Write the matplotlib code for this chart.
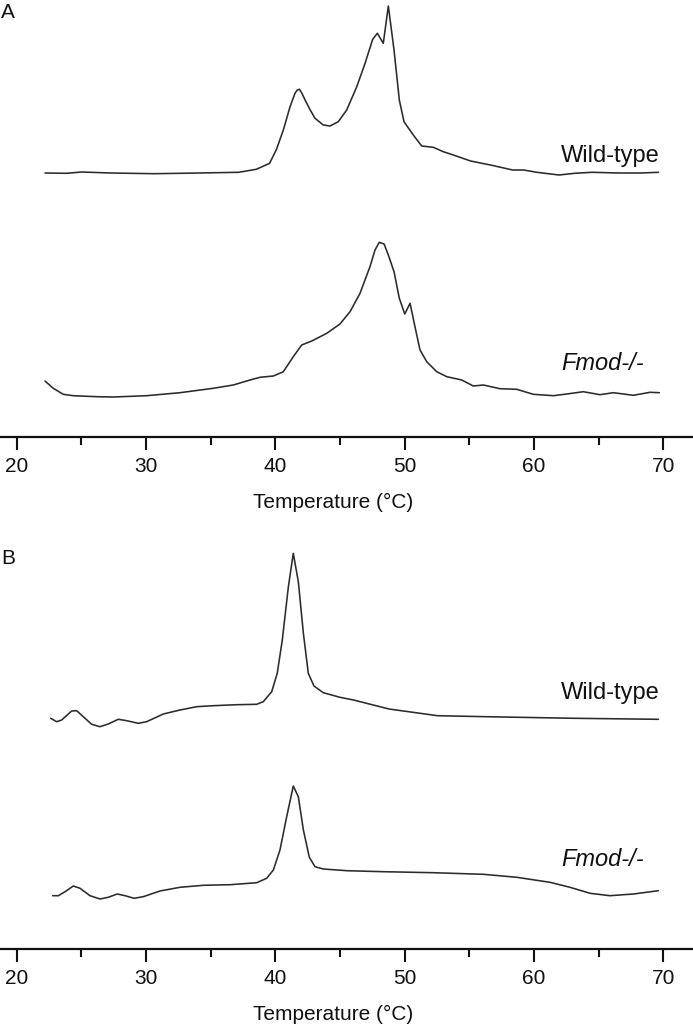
import matplotlib
matplotlib.use("Agg")
import matplotlib.pyplot as plt
from matplotlib.ticker import MultipleLocator

plt.rcParams['font.family'] = ['Liberation Sans', 'DejaVu Sans']

# ---------------- Data (temperature in degC, heat flow in arbitrary units) ----------------
# Panel A
a_wt_T = [22.19, 23.84, 25.03, 27.25, 30.67, 34.09, 37.16, 38.53, 39.56, 40.10, 40.62, 41.14, 41.52,
          41.70, 41.86, 42.05, 42.30, 42.70, 43.07, 43.71, 44.23, 44.87, 45.52, 46.30, 46.94, 47.53,
          47.89, 48.35, 48.74, 49.18, 49.59, 49.95, 50.67, 51.32, 52.22, 52.99, 53.77, 55.10, 56.64,
          58.35, 59.20, 60.23, 61.94, 63.14, 64.49, 66.55, 68.26, 69.63]
a_wt_H = [0.0, -0.003, 0.01, 0.0, -0.007, 0.0, 0.007, 0.037, 0.097, 0.24, 0.43, 0.663, 0.797,
          0.83, 0.837, 0.80, 0.73, 0.63, 0.547, 0.48, 0.47, 0.513, 0.63, 0.863, 1.097, 1.337,
          1.397, 1.297, 1.67, 1.23, 0.73, 0.513, 0.38, 0.27, 0.257, 0.213, 0.18, 0.12, 0.08,
          0.03, 0.03, 0.007, -0.02, -0.003, 0.007, 0.0, 0.0, 0.007]

a_ko_T = [22.19, 22.83, 23.60, 24.38, 26.19, 27.47, 30.05, 32.63, 35.20, 36.75, 38.04, 38.82,
          39.85, 40.62, 41.39, 42.04, 42.82, 43.98, 45.00, 45.78, 46.55, 47.32, 47.71, 48.04,
          48.41, 48.74, 49.18, 49.59, 50.01, 50.42, 50.80, 51.19, 51.71, 52.48, 53.26, 54.42,
          55.31, 56.09, 57.38, 58.67, 59.95, 61.50, 62.54, 63.82, 65.11, 66.14, 67.69, 68.98, 69.70]
a_ko_H = [0.14, 0.067, 0.007, -0.007, -0.017, -0.02, -0.007, 0.023, 0.067, 0.10, 0.15, 0.177,
          0.19, 0.233, 0.383, 0.50, 0.54, 0.617, 0.71, 0.833, 1.017, 1.283, 1.45, 1.527,
          1.51, 1.40, 1.233, 0.967, 0.81, 0.917, 0.683, 0.45, 0.333, 0.233, 0.183, 0.15,
          0.09, 0.10, 0.063, 0.057, 0.007, -0.007, 0.01, 0.033, 0.003, 0.023, -0.003, 0.027, 0.023]

# Panel B
b_wt_T = [22.63, 23.09, 23.48, 24.25, 24.64, 25.15, 25.80, 26.44, 27.08, 27.86, 28.51, 29.40,
          30.05, 31.34, 32.63, 33.92, 35.20, 37.01, 38.56, 39.07, 39.72, 40.15, 40.54, 41.01,
          41.39, 41.78, 42.17, 42.55, 42.99, 43.71, 45.00, 46.05, 48.79, 52.54, 56.30, 63.14, 69.63]
b_wt_H = [-0.003, -0.037, -0.02, 0.07, 0.073, 0.013, -0.063, -0.087, -0.06, -0.013, -0.027, -0.053,
          -0.037, 0.04, 0.08, 0.113, 0.123, 0.133, 0.137, 0.163, 0.263, 0.447, 0.78, 1.313,
          1.647, 1.363, 0.847, 0.447, 0.32, 0.253, 0.207, 0.18, 0.09, 0.023, 0.013, -0.003, -0.013]

b_ko_T = [22.78, 23.22, 23.74, 24.38, 24.90, 25.67, 26.44, 27.08, 27.78, 28.38, 29.07, 29.79,
          31.08, 32.63, 34.43, 36.50, 38.56, 39.33, 39.85, 40.36, 40.88, 41.39, 41.78, 42.17,
          42.63, 43.07, 43.71, 45.52, 48.35, 52.22, 56.09, 58.67, 61.24, 62.79, 64.34, 65.88,
          67.69, 69.62]
b_ko_H = [-0.007, -0.007, 0.033, 0.09, 0.067, -0.007, -0.04, -0.023, 0.01, -0.007, -0.033, -0.017,
          0.04, 0.077, 0.097, 0.103, 0.123, 0.167, 0.25, 0.45, 0.783, 1.09, 0.983, 0.65,
          0.377, 0.283, 0.26, 0.243, 0.233, 0.223, 0.207, 0.177, 0.127, 0.077, 0.017, -0.007,
          0.01, 0.043]

series_labels = ["Wild-type", "Fmod-/-"]
xticks_major = [20, 30, 40, 50, 60, 70]

# ---------------- Figure ----------------
W, H = 693, 1028
fig = plt.figure(figsize=(W / 100, H / 100), dpi=100)

line_color = "#2b2b2b"

def make_panel(bottom_px, top_px, curves, offsets, label_pos, letter, letter_y):
    ax = fig.add_axes([0, 1 - bottom_px / H, 1, (bottom_px - top_px) / H])
    ax.set_xlim(18.71, 72.30)
    ax.set_ylim(0, (bottom_px - top_px) / 100)
    for (T, Hs), off in zip(curves, offsets):
        ax.plot(T, [h + off for h in Hs], color=line_color, lw=1.15,
                solid_joinstyle='round', solid_capstyle='round')
    for sp in ["left", "right", "top"]:
        ax.spines[sp].set_visible(False)
    ax.spines["bottom"].set_linewidth(1.6)
    ax.spines["bottom"].set_color("#111111")
    ax.set_yticks([])
    ax.set_xticks(xticks_major)
    ax.xaxis.set_minor_locator(MultipleLocator(5))
    ax.tick_params(axis="x", which="major", direction="out", length=9.5, width=1.5,
                   labelsize=15, pad=5, colors="#111111")
    ax.tick_params(axis="x", which="minor", direction="out", length=5.5, width=1.5,
                   colors="#111111")
    ax.patch.set_alpha(0)
    ax.text(333 / W, -65 / (bottom_px - top_px), "Temperature (°C)", transform=ax.transAxes,
            ha="center", va="center", fontsize=15, color="#111111")
    (x1, y1), (x2, y2) = label_pos
    ax.text(x1, y1, series_labels[0], ha="right", va="center", fontsize=17, color="#111111")
    ax.text(x2, y2, series_labels[1], ha="right", va="center", fontsize=17,
            style="italic", color="#111111")
    fig.text(1 / W, 1 - letter_y / H, letter, ha="left", va="center", fontsize=15,
             color="#111111")
    return ax

make_panel(437, 0, [(a_wt_T, a_wt_H), (a_ko_T, a_ko_H)], [2.64, 0.42],
           [(69.75, 2.81), (68.52, 0.74)], "A", 13)
make_panel(949, 513, [(b_wt_T, b_wt_H), (b_ko_T, b_ko_H)], [2.31, 0.54],
           [(69.75, 2.56), (68.52, 0.89)], "B", 558)

fig.savefig("out.png", dpi=100)
